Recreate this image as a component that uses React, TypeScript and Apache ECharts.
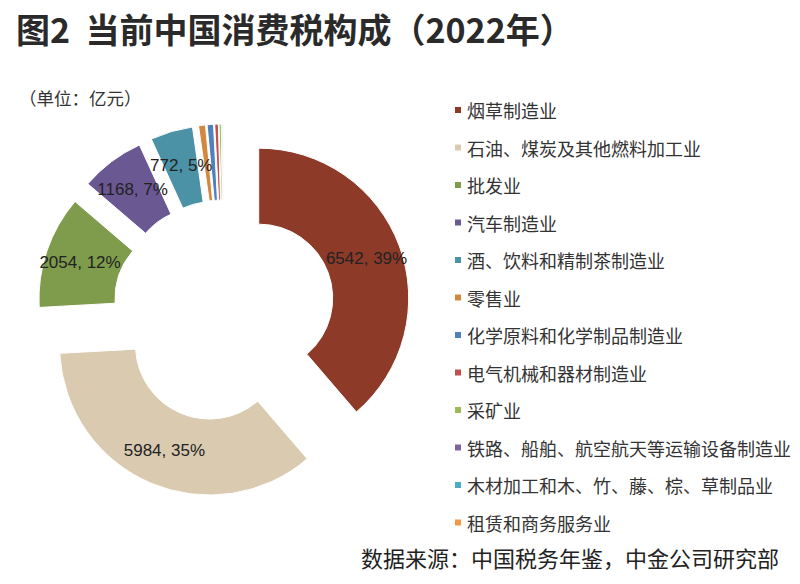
import React, { useEffect, useRef } from "react";
import * as echarts from "echarts";

const categories = [
  "烟草制造业",
  "石油、煤炭及其他燃料加工业",
  "批发业",
  "汽车制造业",
  "酒、饮料和精制茶制造业",
  "零售业",
  "化学原料和化学制品制造业",
  "电气机械和器材制造业",
  "采矿业",
  "铁路、船舶、航空航天等运输设备制造业",
  "木材加工和木、竹、藤、棕、草制品业",
  "租赁和商务服务业",
];
const values = [6542, 5984, 2054, 1168, 772, 125, 115, 65, 40, 18, 12, 5];
const colors = [
  "#8E3A29",
  "#D9CAB0",
  "#7F9B4C",
  "#6A5893",
  "#4C92A7",
  "#D38840",
  "#4F81BD",
  "#C0504D",
  "#9BBB59",
  "#8064A2",
  "#4BACC6",
  "#F79646",
];
const labelledCount = 5;

const titleText = "图2  当前中国消费税构成（2022年）";
const unitText = "（单位：亿元）";
const sourceText = "数据来源：中国税务年鉴，中金公司研究部";

const CJK = '"Noto Sans CJK SC", "Noto Sans", sans-serif';
const LATIN = '"Liberation Sans", Arial, sans-serif';

export default function App() {
  const ref = useRef<HTMLDivElement>(null);
  useEffect(() => {
    if (!ref.current) return;
    const chart = echarts.init(ref.current, undefined, { renderer: "svg" });
    const total = values.reduce((a, b) => a + b, 0);
    const data = categories.map((name, i) => ({
      name,
      value: values[i],
      selected: true,
      itemStyle: { color: colors[i] },
      label: { show: i < labelledCount },
    }));
    chart.setOption({
      animation: false,
      backgroundColor: "#ffffff",
      color: colors,
      graphic: [
        {
          type: "text",
          x: 16,
          y: 28,
          style: {
            text: titleText,
            font: `bold 34px ${CJK}`,
            fill: "#2a2a2a",
            verticalAlign: "middle",
            align: "left",
          },
        },
        {
          type: "text",
          x: 19,
          y: 97,
          style: {
            text: unitText,
            font: `17.5px ${CJK}`,
            fill: "#333",
            verticalAlign: "middle",
            align: "left",
          },
        },
        {
          type: "text",
          x: 779,
          y: 557,
          style: {
            text: sourceText,
            font: `22px ${CJK}`,
            fill: "#222",
            verticalAlign: "middle",
            align: "right",
          },
        },
      ],
      legend: {
        orient: "vertical",
        left: 453,
        top: 101,
        padding: 0,
        itemGap: 19.5,
        itemWidth: 8,
        itemHeight: 8,
        icon: "rect",
        selectedMode: false,
        data: categories,
        textStyle: {
          fontFamily: CJK,
          fontSize: 18,
          lineHeight: 18,
          color: "#333",
        },
      },
      series: [
        {
          type: "pie",
          center: [224, 311],
          radius: [74, 150],
          startAngle: 90,
          clockwise: true,
          selectedMode: "multiple",
          selectedOffset: 37,
          avoidLabelOverlap: false,
          itemStyle: { borderColor: "#ffffff", borderWidth: 1 },
          select: { itemStyle: { borderColor: "#ffffff", borderWidth: 1 } },
          emphasis: { disabled: true },
          labelLayout: { hideOverlap: false },
          label: {
            position: "inside",
            fontFamily: LATIN,
            fontSize: 17,
            color: "#222",
            textBorderWidth: 0,
            formatter: (p: any) =>
              `${p.value}, ${Math.round((p.value / total) * 100)}%`,
          },
          labelLine: { show: false },
          data,
        },
      ],
    });
    return () => chart.dispose();
  }, []);
  return (
    <div
      ref={ref}
      style={{ position: "absolute", left: 0, top: 0, width: 800, height: 584 }}
    />
  );
}
